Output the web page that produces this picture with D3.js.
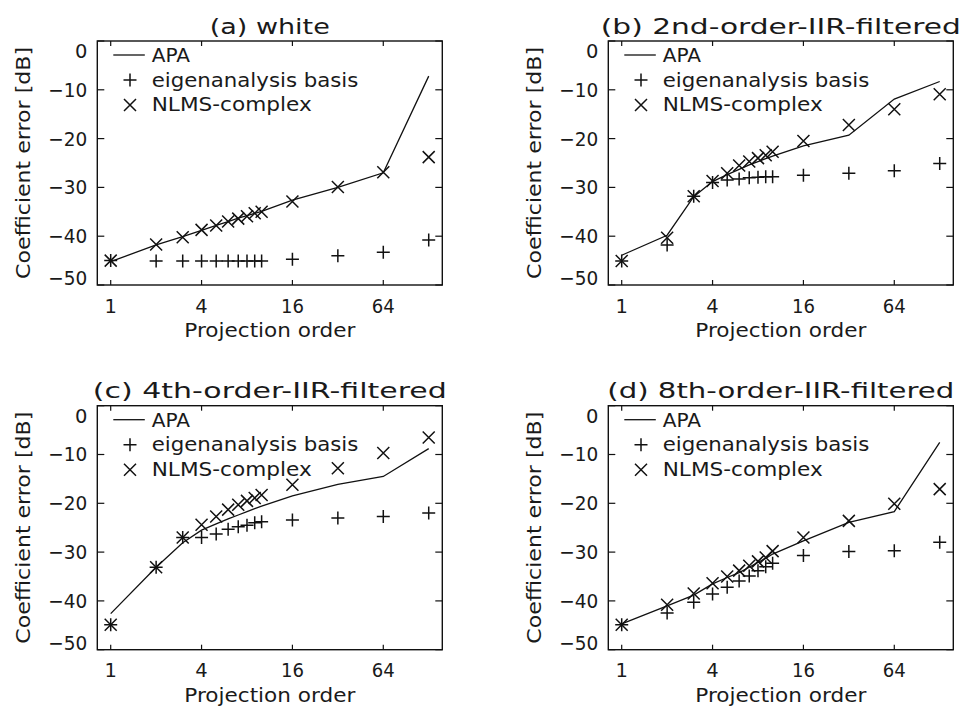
<!DOCTYPE html>
<html>
<head>
<meta charset="utf-8">
<script src="https://cdn.jsdelivr.net/npm/d3@7"></script>
<style>
  html, body { margin: 0; padding: 0; background: #fff; }
  svg { display: block; }
  text { font-family: "DejaVu Sans", "Liberation Sans", sans-serif; fill: #1a1a1a; }
</style>
</head>
<body>
<svg id="chart" width="961" height="708"></svg>
<script>
// ---- data ----
const projectionOrders = [1, 2, 3, 4, 5, 6, 7, 8, 9, 10, 16, 32, 64, 128];
const panelTitles = ["(a) white", "(b) 2nd-order-IIR-filtered", "(c) 4th-order-IIR-filtered", "(d) 8th-order-IIR-filtered"];
const seriesNames = ["APA", "eigenanalysis basis", "NLMS-complex"];
const xTickValues = [1, 4, 16, 64];
const yTickValues = [0, -10, -20, -30, -40, -50];

const apaWhite = [-45.2, -41.8, -40.1, -38.8, -37.8, -37.0, -36.3, -35.8, -35.3, -34.9, -32.6, -30.0, -27.0, -7.2];
const eigWhite = [-45.0, -45.1, -45.1, -45.1, -45.1, -45.1, -45.1, -45.1, -45.1, -45.1, -44.7, -44.0, -43.3, -40.8];
const nlmsWhite = [-45.0, -41.7, -40.2, -38.7, -37.8, -37.0, -36.4, -35.9, -35.3, -35.0, -32.9, -29.9, -26.9, -23.8];

const apaIIR2 = [-43.9, -39.8, -31.9, -28.8, -27.4, -26.3, -25.4, -24.7, -24.1, -23.6, -21.5, -19.3, -11.9, -8.3];
const eigIIR2 = [-45.1, -41.8, -31.8, -29.0, -28.5, -28.3, -28.0, -27.9, -27.8, -27.8, -27.5, -27.1, -26.6, -25.1];
const nlmsIIR2 = [-45.1, -40.3, -31.8, -28.7, -27.1, -25.5, -24.7, -24.0, -23.4, -22.7, -20.5, -17.2, -14.0, -10.9];

const apaIIR4 = [-42.6, -33.1, -28.1, -25.5, -24.2, -23.2, -22.4, -21.7, -21.1, -20.6, -18.5, -16.1, -14.5, -8.8];
const eigIIR4 = [-44.9, -33.1, -27.0, -27.0, -26.3, -25.3, -24.8, -24.5, -24.0, -23.8, -23.4, -23.0, -22.7, -22.0];
const nlmsIIR4 = [-44.9, -33.1, -27.0, -24.4, -22.7, -21.3, -20.3, -19.5, -18.9, -18.3, -16.2, -12.8, -9.7, -6.5];

const apaIIR8 = [-44.7, -41.0, -38.8, -36.5, -35.2, -34.2, -33.1, -32.1, -31.3, -30.4, -27.7, -23.9, -21.7, -7.5];
const eigIIR8 = [-44.9, -42.5, -40.3, -38.6, -37.2, -35.9, -34.9, -33.8, -33.0, -32.3, -30.7, -29.9, -29.7, -28.0];
const nlmsIIR8 = [-44.9, -40.8, -38.5, -36.4, -35.0, -33.8, -32.8, -31.9, -31.1, -29.8, -27.0, -23.6, -20.1, -17.1];

const panelSeries = [
  [apaWhite, eigWhite, nlmsWhite],
  [apaIIR2, eigIIR2, nlmsIIR2],
  [apaIIR4, eigIIR4, nlmsIIR4],
  [apaIIR8, eigIIR8, nlmsIIR8]
];

// ---- layout ----
const frameW = 345, frameH = 244;
const frameOrigins = [[97.3, 41], [608.3, 41], [97.3, 405.7], [608.3, 405.7]];
const titleWidths = [120, 360, 354, 347];
const legendWidths = [38.3, 206.7, 160];
const fontSize = 19.5;
const ink = "#111";

const svg = d3.select("#chart");

function plusPath(s) { return `M${-s},0H${s}M0,${-s}V${s}`; }
function crossPath(s) { return `M${-s},${-s}L${s},${s}M${-s},${s}L${s},${-s}`; }

function fitText(sel, width) {
  if (width) sel.attr("textLength", width).attr("lengthAdjust", "spacingAndGlyphs");
  return sel;
}

panelSeries.forEach((series, p) => {
  const [left, top] = frameOrigins[p];
  const g = svg.append("g").attr("transform", `translate(${left},${top})`);

  const x = d3.scaleLog().base(2)
    .domain([Math.pow(2, -0.295), Math.pow(2, 7.299)])
    .range([0, frameW]);
  const y = d3.scaleLinear().domain([-50, 0]).range([frameH, 0]);

  // frame
  g.append("rect").attr("x", 0).attr("y", 0).attr("width", frameW).attr("height", frameH)
    .attr("fill", "none").attr("stroke", ink).attr("stroke-width", 1.4);

  // x ticks (inward, bottom & top)
  xTickValues.forEach(v => {
    const px = x(v);
    g.append("line").attr("x1", px).attr("x2", px).attr("y1", frameH).attr("y2", frameH - 5)
      .attr("stroke", ink).attr("stroke-width", 1.2);
    g.append("line").attr("x1", px).attr("x2", px).attr("y1", 0).attr("y2", 5)
      .attr("stroke", ink).attr("stroke-width", 1.2);
    const label = d3.format("d")(v);
    const t = g.append("text").attr("x", px).attr("y", frameH + 27.5)
      .attr("text-anchor", "middle").style("font-size", fontSize + "px")
      .text(label);
    fitText(t, label.length > 1 ? 23 : null);
  });

  // y ticks (inward, left & right)
  yTickValues.forEach(v => {
    const py = y(v);
    g.append("line").attr("x1", 0).attr("x2", 7).attr("y1", py).attr("y2", py)
      .attr("stroke", ink).attr("stroke-width", 1.2);
    g.append("line").attr("x1", frameW).attr("x2", frameW - 7).attr("y1", py).attr("y2", py)
      .attr("stroke", ink).attr("stroke-width", 1.2);
    const base = Math.max(17.3, Math.min(frameH, py + 7));
    const label = v === 0 ? "0" : "\u2212" + Math.abs(v);
    const t = g.append("text").attr("x", -10).attr("y", base)
      .attr("text-anchor", "end").style("font-size", fontSize + "px")
      .text(label);
    fitText(t, label.length > 1 ? 39 : null);
  });

  // axis titles
  fitText(g.append("text").attr("x", frameW / 2).attr("y", frameH + 52)
    .attr("text-anchor", "middle").style("font-size", fontSize + "px")
    .text("Projection order"), 171);
  fitText(g.append("text")
    .attr("transform", `translate(${-67},${frameH / 2}) rotate(-90)`)
    .attr("text-anchor", "middle").style("font-size", fontSize + "px")
    .text("Coefficient error [dB]"), 232);

  // panel title
  fitText(g.append("text").attr("x", frameW / 2).attr("y", -7.5)
    .attr("text-anchor", "middle").style("font-size", (fontSize + 1) + "px")
    .text(panelTitles[p]), titleWidths[p]);

  // data
  const [apa, eig, nlms] = series;
  const line = d3.line().x((d, i) => x(projectionOrders[i])).y(d => y(d));
  g.append("path").datum(apa).attr("d", line)
    .attr("fill", "none").attr("stroke", ink).attr("stroke-width", 1.3);

  g.selectAll(null).data(eig).enter().append("path")
    .attr("transform", (d, i) => `translate(${x(projectionOrders[i])},${y(d)})`)
    .attr("d", plusPath(6.5)).attr("fill", "none").attr("stroke", ink).attr("stroke-width", 1.5);

  g.selectAll(null).data(nlms).enter().append("path")
    .attr("transform", (d, i) => `translate(${x(projectionOrders[i])},${y(d)})`)
    .attr("d", crossPath(6)).attr("fill", "none").attr("stroke", ink).attr("stroke-width", 1.5);

  // legend
  const lg = g.append("g");
  lg.append("line").attr("x1", 16).attr("x2", 47.5).attr("y1", 14).attr("y2", 14)
    .attr("stroke", ink).attr("stroke-width", 1.3);
  lg.append("path").attr("transform", "translate(32.7,39)").attr("d", plusPath(6.5))
    .attr("fill", "none").attr("stroke", ink).attr("stroke-width", 1.5);
  lg.append("path").attr("transform", "translate(32.7,64)").attr("d", crossPath(6))
    .attr("fill", "none").attr("stroke", ink).attr("stroke-width", 1.5);
  seriesNames.forEach((name, i) => {
    fitText(lg.append("text").attr("x", 54.4).attr("y", 21.3 + i * 24.4)
      .style("font-size", fontSize + "px")
      .text(name), legendWidths[i]);
  });
});
</script>
</body>
</html>
